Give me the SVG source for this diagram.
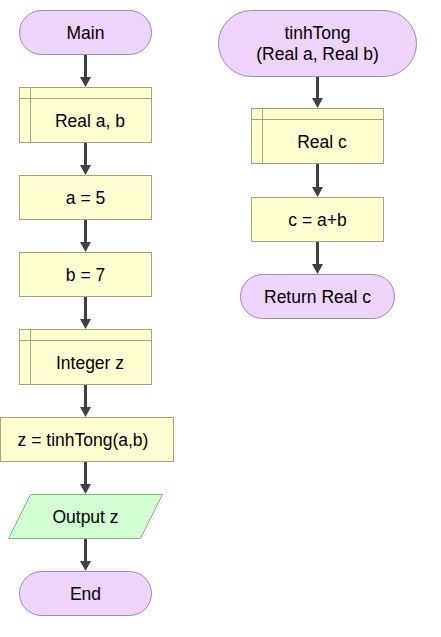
<svg xmlns="http://www.w3.org/2000/svg" width="441" height="637" viewBox="0 0 441 637">
<defs>
<style>
.term{fill:#EED3FB;stroke:#A686B6;stroke-width:1}
.proc{fill:#FFFFD2;stroke:#A4A477;stroke-width:1}
.io{fill:#D2FCD2;stroke:#86B086;stroke-width:1}
.inner{fill:none;stroke:#A4A477;stroke-width:1}
.conn{stroke:#404040;stroke-width:3;fill:none;marker-end:url(#ah)}
text{font-family:"Liberation Sans",Arial,sans-serif;font-size:17.5px;fill:#000;text-anchor:middle}
</style>
<marker id="ah" markerUnits="userSpaceOnUse" markerWidth="12" markerHeight="12" refX="1" refY="5.5" orient="auto">
<path d="M0,0 L10,5.5 L0,11 z" fill="#404040"/>
</marker>
</defs>
<rect width="441" height="637" fill="#fff"/>
<g id="connectors">
<line class="conn" x1="85.5" y1="54" x2="85.5" y2="78"/>
<line class="conn" x1="85.5" y1="142" x2="85.5" y2="166"/>
<line class="conn" x1="85.5" y1="219" x2="85.5" y2="243"/>
<line class="conn" x1="85.5" y1="296" x2="85.5" y2="320"/>
<line class="conn" x1="85.5" y1="384" x2="85.5" y2="408"/>
<line class="conn" x1="85.5" y1="461" x2="85.5" y2="485"/>
<line class="conn" x1="85.5" y1="538" x2="85.5" y2="562"/>
<line class="conn" x1="317.5" y1="76" x2="317.5" y2="99"/>
<line class="conn" x1="317.5" y1="163" x2="317.5" y2="188"/>
<line class="conn" x1="317.5" y1="241" x2="317.5" y2="265"/>
</g>
<g id="main">
<rect class="term" x="19.5" y="10.5" width="132" height="44" rx="22"/>
<text x="85.5" y="39">Main</text>
</g>
<g id="declRealAB">
<rect class="proc" x="19.5" y="87.5" width="132" height="55"/>
<line class="inner" x1="30.5" y1="87.5" x2="30.5" y2="142.5"/>
<line class="inner" x1="19.5" y1="98.5" x2="151.5" y2="98.5"/>
<text x="90" y="127">Real a, b</text>
</g>
<g id="assignA">
<rect class="proc" x="19.5" y="175.5" width="132" height="44"/>
<text x="85.5" y="204">a = 5</text>
</g>
<g id="assignB">
<rect class="proc" x="19.5" y="252.5" width="132" height="44"/>
<text x="85.5" y="281">b = 7</text>
</g>
<g id="declZ">
<rect class="proc" x="19.5" y="329.5" width="132" height="55"/>
<line class="inner" x1="30.5" y1="329.5" x2="30.5" y2="384.5"/>
<line class="inner" x1="19.5" y1="340.5" x2="151.5" y2="340.5"/>
<text x="90" y="369">Integer z</text>
</g>
<g id="callZ">
<rect class="proc" x="0.5" y="417.5" width="173" height="44"/>
<text x="83" y="446">z = tinhTong(a,b)</text>
</g>
<g id="outputZ">
<polygon class="io" points="30.5,494.5 162.5,494.5 140.5,538.5 8.5,538.5"/>
<text x="85.5" y="523">Output z</text>
</g>
<g id="end">
<rect class="term" x="19.5" y="571.5" width="132" height="44" rx="22"/>
<text x="85.5" y="600">End</text>
</g>
<g id="tinhTong">
<rect class="term" x="218.5" y="10.5" width="198" height="66" rx="33"/>
<text x="317.5" y="39">tinhTong</text>
<text x="317.5" y="60">(Real a, Real b)</text>
</g>
<g id="declC">
<rect class="proc" x="251.5" y="108.5" width="132" height="55"/>
<line class="inner" x1="262.5" y1="108.5" x2="262.5" y2="163.5"/>
<line class="inner" x1="251.5" y1="119.5" x2="383.5" y2="119.5"/>
<text x="322" y="148">Real c</text>
</g>
<g id="assignC">
<rect class="proc" x="251.5" y="197.5" width="132" height="44"/>
<text x="317.5" y="226">c = a+b</text>
</g>
<g id="return">
<rect class="term" x="240.5" y="274.5" width="154" height="44" rx="22"/>
<text x="317.5" y="303">Return Real c</text>
</g>
</svg>
